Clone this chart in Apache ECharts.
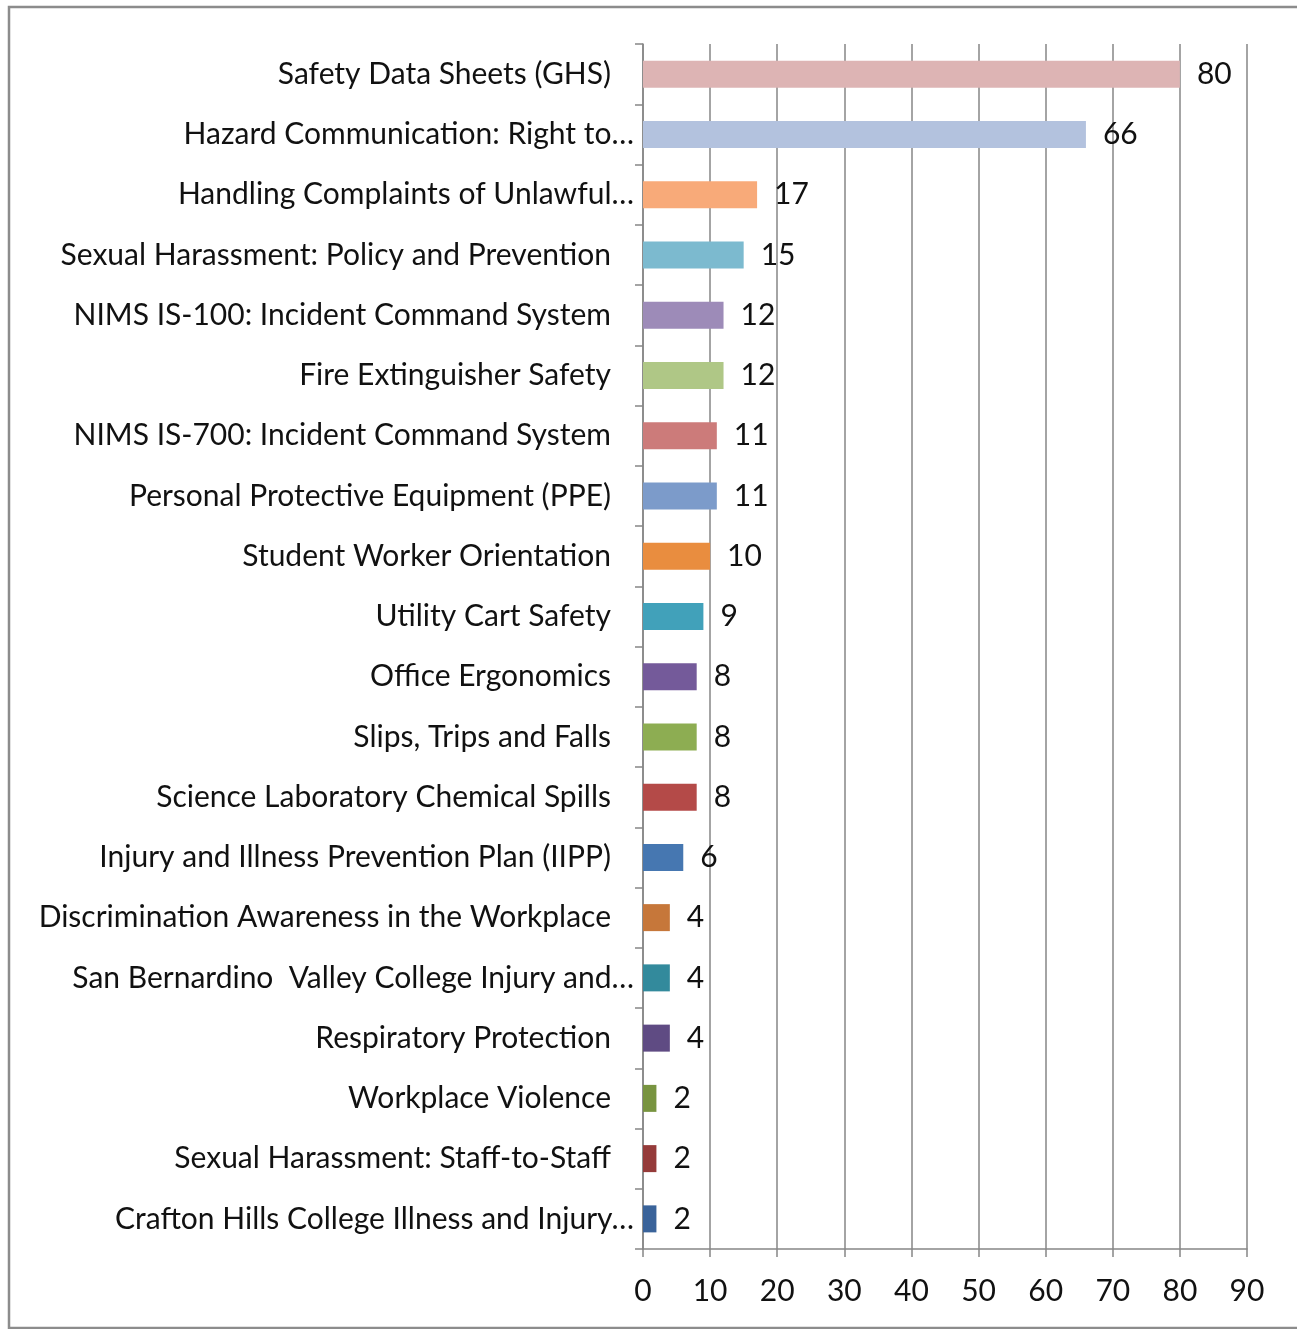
<!DOCTYPE html>
<html>
<head>
<meta charset="utf-8">
<script src="https://cdn.jsdelivr.net/npm/echarts@6/dist/echarts.min.js"></script>
<style>
html, body { margin: 0; padding: 0; background: #fff; }
#main { width: 1297px; height: 1329px; }
</style>
</head>
<body>
<div id="main"></div>
<script>
// courses, top to bottom
var courses = [
	"Safety Data Sheets (GHS)",
	"Hazard Communication: Right to…",
	"Handling Complaints of Unlawful…",
	"Sexual Harassment: Policy and Prevention",
	"NIMS IS-100: Incident Command System",
	"Fire Extinguisher Safety",
	"NIMS IS-700: Incident Command System",
	"Personal Protective Equipment (PPE)",
	"Student Worker Orientation",
	"Utility Cart Safety",
	"Office Ergonomics",
	"Slips, Trips and Falls",
	"Science Laboratory Chemical Spills",
	"Injury and Illness Prevention Plan (IIPP)",
	"Discrimination Awareness in the Workplace",
	"San Bernardino  Valley College Injury and…",
	"Respiratory Protection",
	"Workplace Violence",
	"Sexual Harassment: Staff-to-Staff",
	"Crafton Hills College Illness and Injury…"
];
var counts = [80, 66, 17, 15, 12, 12, 11, 11, 10, 9, 8, 8, 8, 6, 4, 4, 4, 2, 2, 2];
var barColors = [
	"#DDB4B4", "#B3C2DE", "#F8AA79", "#7CBACF", "#9D8BB8",
	"#AFC786", "#CC7B7A", "#7C9BCA", "#E98D3F", "#41A1BA",
	"#745A9A", "#8DAD52", "#B44A48", "#4677B1", "#C6773A",
	"#338A9C", "#5F4B83", "#789440", "#953B3A", "#3A639A"
];
var xTicks = [0, 10, 20, 30, 40, 50, 60, 70, 80, 90];

var font = "Lato, 'Open Sans', sans-serif";
var fs = 30;

var chart = echarts.init(document.getElementById("main"));

var bars = [];
for (var i = 0; i < counts.length; i++) {
	bars.push({ value: counts[i], itemStyle: { color: barColors[i] } });
}

var op = {
	animation: false,
	backgroundColor: "#fff",
	grid: { left: 643, right: 50, top: 44, bottom: 80 },
	graphic: [{
		type: "rect",
		shape: { x: 9, y: 7, width: 1290, height: 1321 },
		style: { fill: "none", stroke: "#8c8c8c", lineWidth: 2.5 },
		z: 100
	}],
	xAxis: {
		type: "value",
		min: xTicks[0],
		max: xTicks[xTicks.length - 1],
		interval: 10,
		axisLine: { show: true, lineStyle: { color: "#868686", width: 1.5 } },
		axisTick: { show: true, length: 8, lineStyle: { color: "#868686", width: 1.5 } },
		splitLine: { show: true, lineStyle: { color: "#868686", width: 1.5 } },
		axisLabel: { margin: 27, fontSize: fs, color: "#111", fontFamily: font }
	},
	yAxis: {
		type: "category",
		inverse: true,
		data: courses,
		axisLine: { show: true, lineStyle: { color: "#868686", width: 1.5 } },
		axisTick: { show: true, length: 8, lineStyle: { color: "#868686", width: 1.5 } },
		axisLabel: {
			margin: 9,
			fontSize: fs,
			color: "#111",
			fontFamily: font,
			formatter: function (v) {
				// 截断的标签贴近坐标轴
				if (v.charAt(v.length - 1) === "…") return "{t|" + v + "}";
				return "{n|" + v + "}";
			},
			rich: {
				t: { fontSize: fs, fontFamily: font, color: "#111" },
				n: { fontSize: fs, fontFamily: font, color: "#111", padding: [0, 23, 0, 0] }
			}
		}
	},
	series: [{
		type: "bar",
		data: bars,
		barWidth: 27,
		label: {
			show: true,
			position: "right",
			distance: 17,
			fontSize: fs,
			color: "#111",
			fontFamily: font
		}
	}]
};

chart.setOption(op);
</script>
</body>
</html>
